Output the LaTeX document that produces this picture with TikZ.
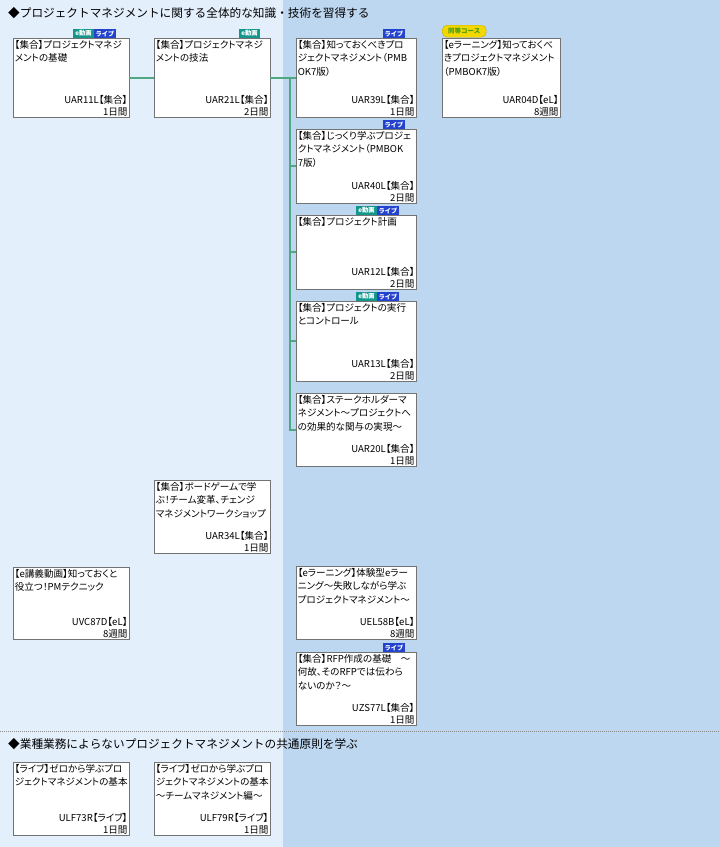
\documentclass[tikz,border=0pt]{standalone}
\usepackage{fontspec}
\setmainfont{Noto Sans CJK JP}
\newfontfamily\jp[RawFeature=+palt]{Noto Sans CJK JP}
\newfontfamily\jpt{Noto Sans CJK JP}
\definecolor{bgL}{HTML}{E4EFFC}
\definecolor{bgR}{HTML}{BED7F0}
\definecolor{conncol}{HTML}{4FA882}
\definecolor{tealb}{HTML}{13978A}
\definecolor{blueb}{HTML}{2343CF}
\definecolor{yelb}{HTML}{F3D800}
\definecolor{grntx}{HTML}{4A9A10}
\tikzset{
  cbox/.style={draw=black!55, line width=0.8bp, fill=white, inner sep=0, outer sep=0},
  ctext/.style={inner sep=0, outer sep=0, font=\jp\fontsize{9.6}{13.3}\selectfont, align=left},
  ccode/.style={inner sep=0, outer sep=0, font=\jp\fontsize{9.6}{12.5}\selectfont, align=right},
  conn/.style={draw=conncol, line width=2bp},
  bdg/.style={inner sep=0, outer sep=0, minimum height=9bp, text=white, font=\jpt\fontsize{6.3}{7}\selectfont\bfseries, anchor=south west},
  bteal/.style={bdg, fill=tealb, minimum width=21bp},
  bblue/.style={bdg, fill=blueb, minimum width=22bp},
  bsame/.style={fill=yelb, draw=yelb!80!black, line width=0.4bp, rounded corners=5bp, minimum width=44bp, minimum height=12bp, inner sep=0, text=grntx, font=\jpt\fontsize{6.5}{7}\selectfont\bfseries, anchor=north west},
  sectitle/.style={inner sep=0, anchor=west, font=\jpt\fontsize{11.7}{13}\selectfont},
}
\newcommand\crs[8]{%
  \node[cbox, minimum width=#4bp, minimum height=#5bp, anchor=north west] (#1) at (#2,#3) {};
  \node[ctext, anchor=north west] (#1-t) at ([xshift=1.8bp,yshift=-2.5bp]#1.north west) {#6};
  \node[ccode, anchor=south east] (#1-c) at ([xshift=-1.5bp,yshift=0.3bp]#1.south east) {#7\\#8};
}
\begin{document}
\begin{tikzpicture}[x=1bp,y=-1bp]
\useasboundingbox (0,0) rectangle (720,847);
\fill[bgL] (0,0) rectangle (283,847);
\fill[bgR] (283,0) rectangle (720,847);
\draw[black!45, line width=0.6bp, dash pattern=on 1bp off 1bp] (0,731) -- (720,731);

\node[sectitle] (t1) at (8,13) {◆プロジェクトマネジメントに関する全体的な知識・技術を習得する};
\node[sectitle] (t2) at (8,744) {◆業種業務によらないプロジェクトマネジメントの共通原則を学ぶ};

% courses
\crs{uar11}{13}{38}{116}{79}{【集合】プロジェクトマネジ\\メントの基礎}{UAR11L【集合】}{1日間}
\crs{uar21}{154}{38}{116}{79}{【集合】プロジェクトマネジ\\メントの技法}{UAR21L【集合】}{2日間}
\crs{uar39}{296}{38}{120}{79}{【集合】知っておくべきプロ\\ジェクトマネジメント（PMB\\OK7版）}{UAR39L【集合】}{1日間}
\crs{uar04}{442}{38}{118}{79}{【eラーニング】知っておくべ\\きプロジェクトマネジメント\\（PMBOK7版）}{UAR04D【eL】}{8週間}
\crs{uar40}{296}{129}{120}{74}{【集合】じっくり学ぶプロジェ\\クトマネジメント（PMBOK\\7版）}{UAR40L【集合】}{2日間}
\crs{uar12}{296}{215}{120}{74}{【集合】プロジェクト計画}{UAR12L【集合】}{2日間}
\crs{uar13}{296}{301}{120}{80}{【集合】プロジェクトの実行\\とコントロール}{UAR13L【集合】}{2日間}
\crs{uar20}{296}{393}{120}{73}{【集合】ステークホルダーマ\\ネジメント～プロジェクトへ\\の効果的な関与の実現～}{UAR20L【集合】}{1日間}
\crs{uar34}{154}{480}{116}{73}{【集合】ボードゲームで学\\ぶ！チーム変革、チェンジ\\マネジメントワークショップ}{UAR34L【集合】}{1日間}
\crs{uvc87}{13}{567}{116}{72}{【e講義動画】知っておくと\\役立つ！PMテクニック}{UVC87D【eL】}{8週間}
\crs{uel58}{296}{566}{120}{73}{【eラーニング】体験型eラー\\ニング～失敗しながら学ぶ\\プロジェクトマネジメント～}{UEL58B【eL】}{8週間}
\crs{uzs77}{296}{652}{120}{73}{【集合】RFP作成の基礎　～\\何故、そのRFPでは伝わら\\ないのか？～}{UZS77L【集合】}{1日間}
\crs{ulf73}{13}{762}{116}{73}{【ライブ】ゼロから学ぶプロ\\ジェクトマネジメントの基本}{ULF73R【ライブ】}{1日間}
\crs{ulf79}{154}{762}{116}{73}{【ライブ】ゼロから学ぶプロ\\ジェクトマネジメントの基本\\～チームマネジメント編～}{ULF79R【ライブ】}{1日間}

% badges
\node[bteal] (b11a) at (73,38) {e動画};
\node[bblue] (b11b) at (94,38) {ライブ};
\node[bteal] (b21a) at (239,38) {e動画};
\node[bblue] (b39b) at (383,38) {ライブ};
\node[bsame] (b04s) at (442,25) {同等コース};
\node[bblue] (b40b) at (383,129) {ライブ};
\node[bteal] (b12a) at (356,215) {e動画};
\node[bblue] (b12b) at (377,215) {ライブ};
\node[bteal] (b13a) at (356,301) {e動画};
\node[bblue] (b13b) at (377,301) {ライブ};
\node[bblue] (b77b) at (383,652) {ライブ};

% connectors
\coordinate (trunk) at (290,78);
\draw[conn] (uar11.east |- trunk) -- (uar21.west |- trunk);
\draw[conn] (uar21.east |- trunk) -- (uar39.west |- trunk);
\draw[conn] (trunk) |- (uar20.west);
\draw[conn] (trunk |- uar40.west) -- (uar40.west);
\draw[conn] (trunk |- uar12.west) -- (uar12.west);
\draw[conn] (trunk |- uar13.west) -- (uar13.west);
\end{tikzpicture}
\end{document}
